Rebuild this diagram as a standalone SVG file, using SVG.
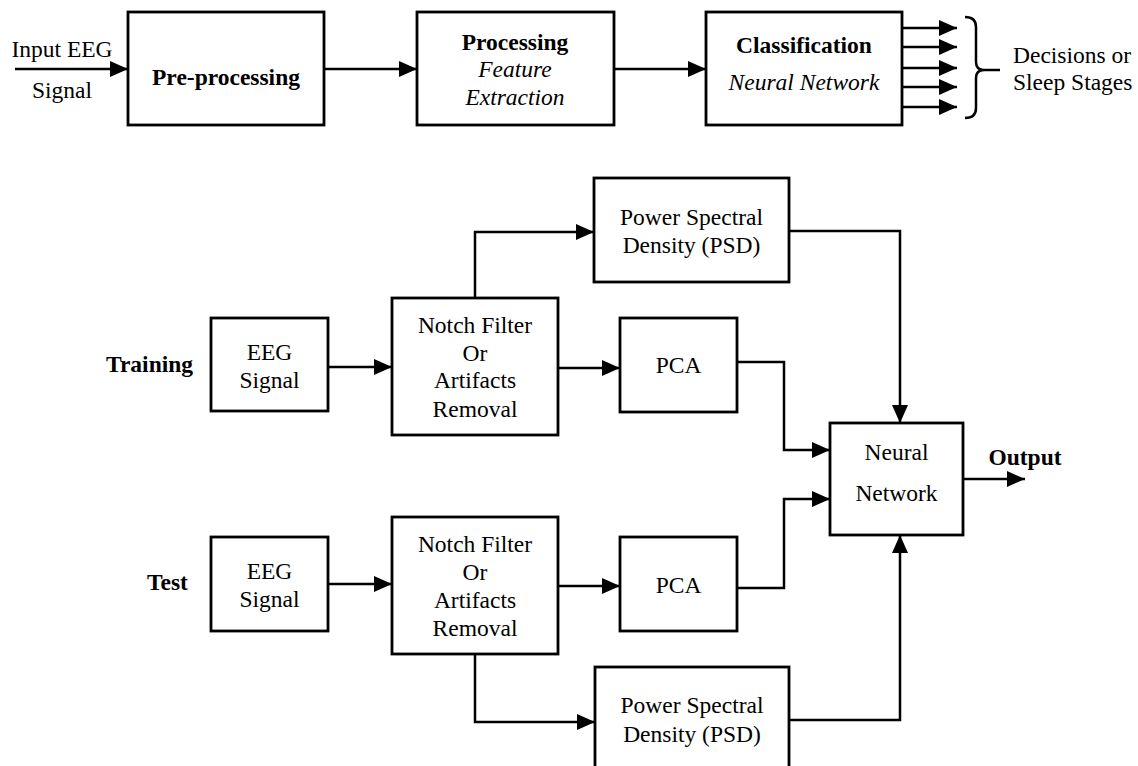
<svg xmlns="http://www.w3.org/2000/svg" width="1138" height="766" viewBox="0 0 1138 766">
<style>
text{font-family:"Liberation Serif","Times New Roman",serif;font-size:23.5px;fill:#000}
.c{text-anchor:middle}
.b{font-weight:bold}
.i{font-style:italic}
.box{fill:#fff;stroke:#000;stroke-width:2.8}
.ln{fill:none;stroke:#000;stroke-width:2.5}
</style>
<defs>
<marker id="ah" markerUnits="userSpaceOnUse" markerWidth="18" markerHeight="16" refX="18" refY="8" orient="auto">
<path d="M0,0 L18,8 L0,16 z" fill="#000"/>
</marker>
</defs>
<rect width="1138" height="766" fill="#fff"/>

<g id="connectors">
<path class="ln" d="M15,69 H128" marker-end="url(#ah)"/>
<path class="ln" d="M324,69 H417" marker-end="url(#ah)"/>
<path class="ln" d="M614,69 H706" marker-end="url(#ah)"/>
<path class="ln" d="M902,28 H957" marker-end="url(#ah)"/>
<path class="ln" d="M902,47 H957" marker-end="url(#ah)"/>
<path class="ln" d="M902,68 H957" marker-end="url(#ah)"/>
<path class="ln" d="M902,87 H957" marker-end="url(#ah)"/>
<path class="ln" d="M902,107 H957" marker-end="url(#ah)"/>
<path class="ln" d="M965,17 Q976,17 976,27 L976,62 Q976,70 984,70 L1000,70 M984,70 Q976,70 976,78 L976,108 Q976,118 965,118"/>

<path class="ln" d="M328,367 H392" marker-end="url(#ah)"/>
<path class="ln" d="M475,298 V232 H594" marker-end="url(#ah)"/>
<path class="ln" d="M789,231 H900 V423" marker-end="url(#ah)"/>
<path class="ln" d="M558,368 H620" marker-end="url(#ah)"/>
<path class="ln" d="M737,362 H784 V450 H830" marker-end="url(#ah)"/>
<path class="ln" d="M963,479 H1025" marker-end="url(#ah)"/>

<path class="ln" d="M328,584 H392" marker-end="url(#ah)"/>
<path class="ln" d="M558,586 H620" marker-end="url(#ah)"/>
<path class="ln" d="M737,588 H784 V499 H830" marker-end="url(#ah)"/>
<path class="ln" d="M475,654 V722 H595" marker-end="url(#ah)"/>
<path class="ln" d="M789,720 H900 V535" marker-end="url(#ah)"/>
</g>

<g id="input-label">
<text class="c" x="62" y="57">Input EEG</text>
<text class="c" x="62" y="98">Signal</text>
</g>
<g id="preprocessing">
<rect class="box" x="128" y="12" width="196" height="113"/>
<text class="c b" x="226" y="85">Pre-processing</text>
</g>
<g id="processing">
<rect class="box" x="417" y="12" width="197" height="113"/>
<text class="c b" x="515" y="50">Processing</text>
<text class="c i" x="515" y="77">Feature</text>
<text class="c i" x="515" y="105">Extraction</text>
</g>
<g id="classification">
<rect class="box" x="706" y="12" width="196" height="113"/>
<text class="c b" x="804" y="53">Classification</text>
<text class="c i" x="804" y="90">Neural Network</text>
</g>
<g id="decisions">
<text x="1013" y="63">Decisions or</text>
<text x="1013" y="90">Sleep Stages</text>
</g>

<g id="training-label"><text class="b" x="106" y="372">Training</text></g>
<g id="eeg-train">
<rect class="box" x="211" y="318" width="117" height="93"/>
<text class="c" x="269.5" y="360">EEG</text>
<text class="c" x="269.5" y="388">Signal</text>
</g>
<g id="notch-train">
<rect class="box" x="392" y="298" width="166" height="137"/>
<text class="c" x="475" y="333">Notch Filter</text>
<text class="c" x="475" y="361">Or</text>
<text class="c" x="475" y="388">Artifacts</text>
<text class="c" x="475" y="417">Removal</text>
</g>
<g id="psd-train">
<rect class="box" x="594" y="178" width="195" height="104"/>
<text class="c" x="691.5" y="225">Power Spectral</text>
<text class="c" x="691.5" y="253">Density (PSD)</text>
</g>
<g id="pca-train">
<rect class="box" x="620" y="318" width="117" height="94"/>
<text class="c" x="678.5" y="373">PCA</text>
</g>
<g id="neural-network">
<rect class="box" x="830" y="423" width="133" height="112"/>
<text class="c" x="896.5" y="460">Neural</text>
<text class="c" x="896.5" y="501">Network</text>
</g>
<g id="output-label"><text class="b c" x="1025" y="465">Output</text></g>

<g id="test-label"><text class="b" x="147" y="590">Test</text></g>
<g id="eeg-test">
<rect class="box" x="211" y="537" width="117" height="94"/>
<text class="c" x="269.5" y="579">EEG</text>
<text class="c" x="269.5" y="607">Signal</text>
</g>
<g id="notch-test">
<rect class="box" x="392" y="517" width="166" height="137"/>
<text class="c" x="475" y="552">Notch Filter</text>
<text class="c" x="475" y="580">Or</text>
<text class="c" x="475" y="608">Artifacts</text>
<text class="c" x="475" y="636">Removal</text>
</g>
<g id="pca-test">
<rect class="box" x="620" y="537" width="117" height="94"/>
<text class="c" x="678.5" y="593">PCA</text>
</g>
<g id="psd-test">
<rect class="box" x="595" y="667" width="194" height="104"/>
<text class="c" x="692" y="713">Power Spectral</text>
<text class="c" x="692" y="742">Density (PSD)</text>
</g>
</svg>
